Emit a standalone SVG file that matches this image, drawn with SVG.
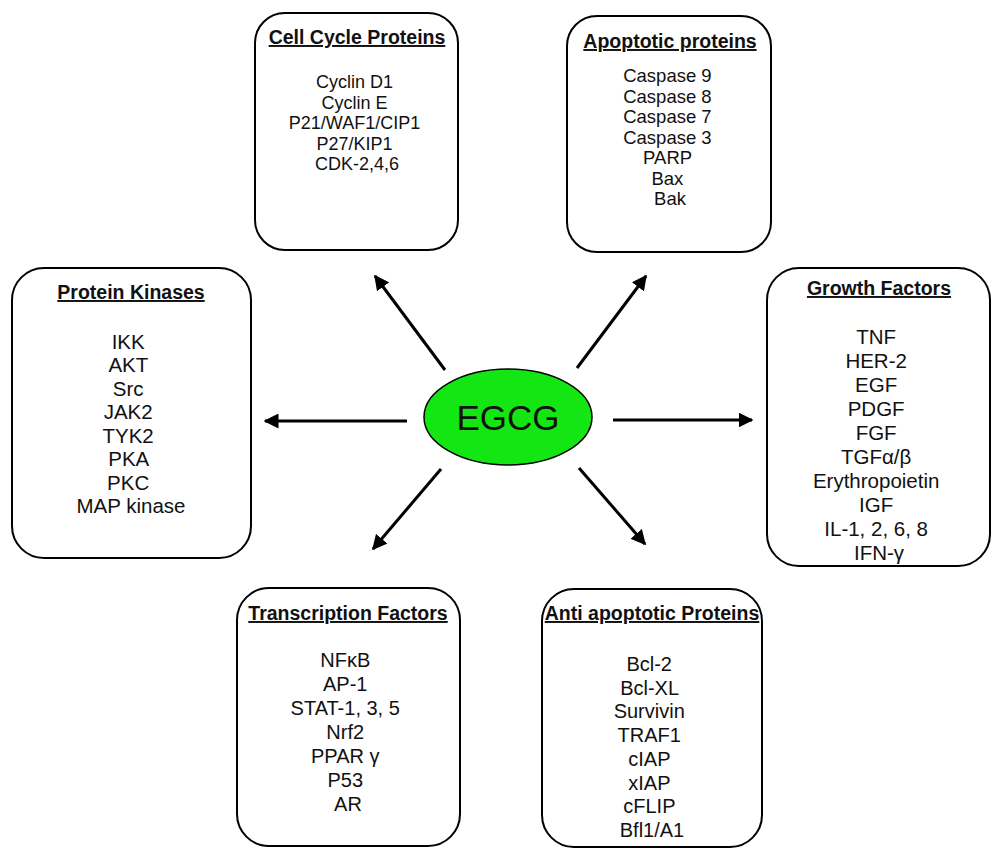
<svg xmlns="http://www.w3.org/2000/svg" width="995" height="848" viewBox="0 0 995 848">
<style>
.box{fill:#fff;stroke:#000;stroke-width:2}
.t{font-family:"Liberation Sans",Arial,sans-serif;text-anchor:middle;fill:#111}
.h{font-weight:bold;font-size:19.5px;text-decoration:underline}
.conn line{stroke:#000;stroke-width:3}
</style>
<defs>
<marker id="ah" viewBox="0 0 10 10" refX="9" refY="5" markerWidth="5" markerHeight="5" orient="auto" markerUnits="strokeWidth">
<path d="M0,0 L10,5 L0,10 z" fill="#000"/>
</marker>
</defs>
<rect width="995" height="848" fill="#fff"/>
<g class="conn">
<line x1="445" y1="370" x2="375" y2="276" marker-end="url(#ah)"/>
<line x1="577" y1="368" x2="646" y2="276" marker-end="url(#ah)"/>
<line x1="407" y1="421" x2="265" y2="421" marker-end="url(#ah)"/>
<line x1="613" y1="420" x2="752" y2="420" marker-end="url(#ah)"/>
<line x1="441" y1="469" x2="373" y2="549" marker-end="url(#ah)"/>
<line x1="579" y1="468" x2="645" y2="544" marker-end="url(#ah)"/>
</g>
<g id="egcg">
<ellipse cx="508" cy="417" rx="84" ry="48" fill="#14e614" stroke="#000" stroke-width="1.5"/>
<text class="t" x="508" y="430" font-size="35">EGCG</text>
</g>
<g id="cellcycle">
<rect class="box" x="255" y="13" width="203" height="237" rx="30"/>
<text class="t h" x="357" y="44">Cell Cycle Proteins</text>
<text class="t" font-size="18" x="357">
<tspan x="357" y="88">Cyclin D1</tspan>
<tspan x="357" y="108.5">Cyclin E</tspan>
<tspan x="357" y="129">P21/WAF1/CIP1</tspan>
<tspan x="357" y="149.5">P27/KIP1</tspan>
<tspan x="357" y="170">CDK-2,4,6</tspan>
</text>
</g>
<g id="apoptotic">
<rect class="box" x="567" y="16" width="204" height="236" rx="30"/>
<text class="t h" x="670" y="48" font-size="20">Apoptotic proteins</text>
<text class="t" font-size="18.5" x="670">
<tspan x="670" y="82">Caspase 9</tspan>
<tspan x="670" y="102.5">Caspase 8</tspan>
<tspan x="670" y="123">Caspase 7</tspan>
<tspan x="670" y="143.5">Caspase 3</tspan>
<tspan x="670" y="164">PARP</tspan>
<tspan x="670" y="184.5">Bax</tspan>
<tspan x="670" y="205">Bak</tspan>
</text>
</g>
<g id="kinases">
<rect class="box" x="12" y="268" width="239" height="290" rx="32"/>
<text class="t h" x="131" y="299">Protein Kinases</text>
<text class="t" font-size="20.5" x="131">
<tspan x="131" y="348.5">IKK</tspan>
<tspan x="131" y="372">AKT</tspan>
<tspan x="131" y="395.5">Src</tspan>
<tspan x="131" y="419">JAK2</tspan>
<tspan x="131" y="442.5">TYK2</tspan>
<tspan x="131" y="466">PKA</tspan>
<tspan x="131" y="489.5">PKC</tspan>
<tspan x="131" y="513">MAP kinase</tspan>
</text>
</g>
<g id="growth">
<rect class="box" x="767" y="268" width="223" height="298" rx="32"/>
<text class="t h" x="879" y="295">Growth Factors</text>
<text class="t" font-size="20.5" x="879">
<tspan x="879" y="343.5">TNF</tspan>
<tspan x="879" y="367.5">HER-2</tspan>
<tspan x="879" y="391.5">EGF</tspan>
<tspan x="879" y="415.5">PDGF</tspan>
<tspan x="879" y="439.5">FGF</tspan>
<tspan x="879" y="463.5">TGFα/β</tspan>
<tspan x="879" y="487.5">Erythropoietin</tspan>
<tspan x="879" y="511.5">IGF</tspan>
<tspan x="879" y="535.5">IL-1, 2, 6, 8</tspan>
<tspan x="879" y="559.5">IFN-γ</tspan>
</text>
</g>
<g id="transcription">
<rect class="box" x="237" y="588" width="223" height="258" rx="32"/>
<text class="t h" x="348" y="620">Transcription Factors</text>
<text class="t" font-size="20" x="348">
<tspan x="348" y="667">NFκB</tspan>
<tspan x="348" y="691">AP-1</tspan>
<tspan x="348" y="715">STAT-1, 3, 5</tspan>
<tspan x="348" y="739">Nrf2</tspan>
<tspan x="348" y="763">PPAR γ</tspan>
<tspan x="348" y="787">P53</tspan>
<tspan x="348" y="811">AR</tspan>
</text>
</g>
<g id="antiapoptotic">
<rect class="box" x="542" y="589" width="220" height="258" rx="32"/>
<text class="t h" x="652" y="620" font-size="19">Anti apoptotic Proteins</text>
<text class="t" font-size="20" x="652">
<tspan x="652" y="671">Bcl-2</tspan>
<tspan x="652" y="694.7">Bcl-XL</tspan>
<tspan x="652" y="718.4">Survivin</tspan>
<tspan x="652" y="742.1">TRAF1</tspan>
<tspan x="652" y="765.8">cIAP</tspan>
<tspan x="652" y="789.5">xIAP</tspan>
<tspan x="652" y="813.2">cFLIP</tspan>
<tspan x="652" y="836.9">Bfl1/A1</tspan>
</text>
</g>
</svg>
